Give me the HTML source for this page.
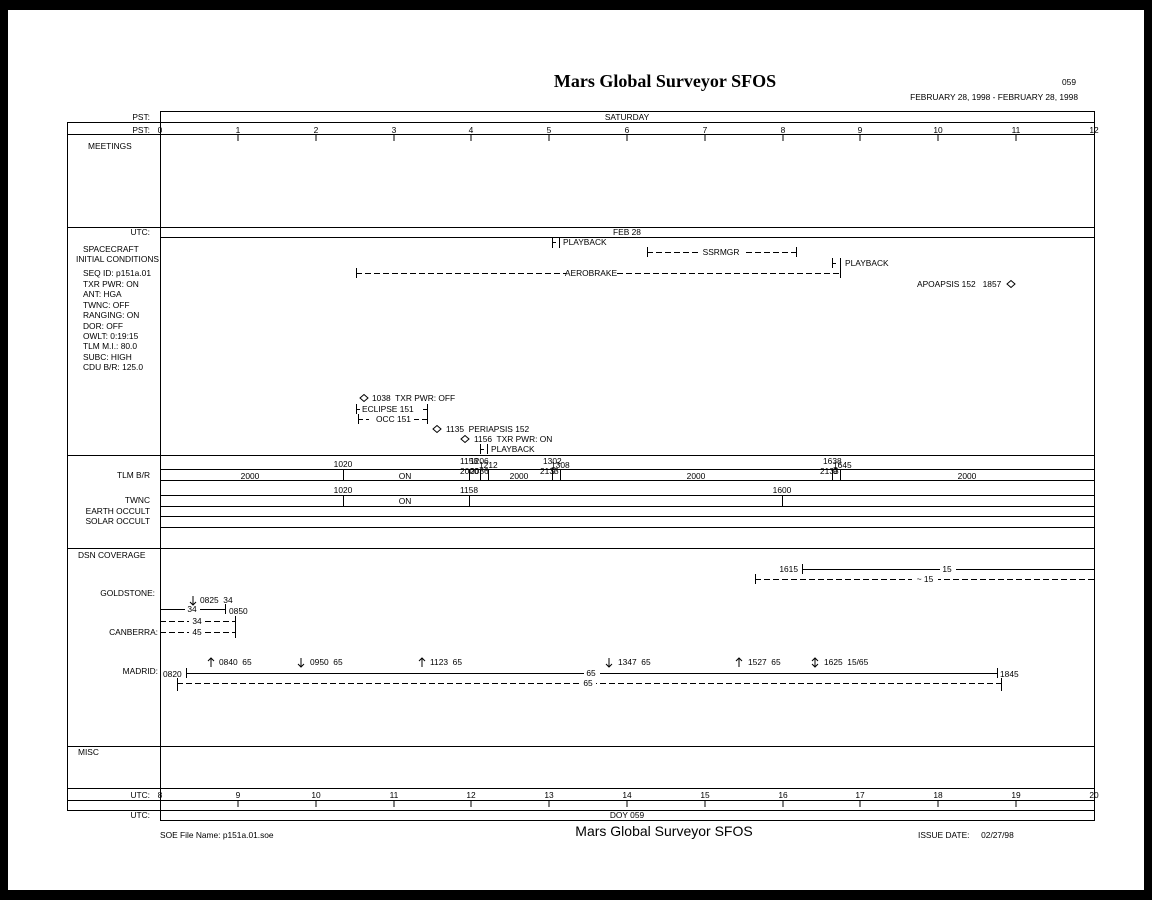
<!DOCTYPE html>
<html><head><meta charset="utf-8"><style>
html,body{margin:0;padding:0;background:#000;}
svg{display:block}
text{font-family:"Liberation Sans",sans-serif;font-size:8.4px;fill:#000;white-space:pre}
</style></head><body>
<svg width="1152" height="900" viewBox="0 0 1152 900" xmlns="http://www.w3.org/2000/svg">
<rect x="0" y="0" width="1152" height="900" fill="#000"/>
<rect x="8" y="10" width="1136" height="880" fill="#fff"/>
<g stroke="#000" stroke-width="1" fill="none">
<line x1="160" y1="111.5" x2="1094" y2="111.5"/>
<line x1="67" y1="122.5" x2="1094" y2="122.5"/>
<line x1="67" y1="134.5" x2="1094" y2="134.5"/>
<line x1="67" y1="227.5" x2="1094" y2="227.5"/>
<line x1="160" y1="237.5" x2="1094" y2="237.5"/>
<line x1="67" y1="455.5" x2="1094" y2="455.5"/>
<line x1="160" y1="469.5" x2="1094" y2="469.5"/>
<line x1="160" y1="480.5" x2="1094" y2="480.5"/>
<line x1="160" y1="495.5" x2="1094" y2="495.5"/>
<line x1="160" y1="506.5" x2="1094" y2="506.5"/>
<line x1="160" y1="516.5" x2="1094" y2="516.5"/>
<line x1="160" y1="527.5" x2="1094" y2="527.5"/>
<line x1="67" y1="548.5" x2="1094" y2="548.5"/>
<line x1="67" y1="746.5" x2="1094" y2="746.5"/>
<line x1="67" y1="788.5" x2="1094" y2="788.5"/>
<line x1="67" y1="800.5" x2="1094" y2="800.5"/>
<line x1="67" y1="810.5" x2="1094" y2="810.5"/>
<line x1="160" y1="820.5" x2="1094" y2="820.5"/>
<line x1="67.5" y1="122" x2="67.5" y2="811"/>
<line x1="160.5" y1="111" x2="160.5" y2="821"/>
<line x1="1094.5" y1="111" x2="1094.5" y2="821"/>
<path d="M238 135v6M316 135v6M394 135v6M471 135v6M549 135v6M627 135v6M705 135v6M783 135v6M860 135v6M938 135v6M1016 135v6"/>
<path d="M238 801v6M316 801v6M394 801v6M471 801v6M549 801v6M627 801v6M705 801v6M783 801v6M860 801v6M938 801v6M1016 801v6"/>
<path d="M552.5 238v10M552 242.5h4M559.5 238v10"/>
<path d="M647.5 247v10M796.5 247v10"/>
<line x1="647" y1="252.5" x2="796" y2="252.5" stroke-dasharray="6 3"/>
<path d="M832.5 258v10M832 263.5h4M840.5 258v10"/>
<path d="M356.5 268v10M840.5 268v10"/>
<line x1="356" y1="273.5" x2="840" y2="273.5" stroke-dasharray="6 3"/>
<path d="M356.5 404v10M356 409.5h4M427.5 404v10M423 409.5h4"/>
<path d="M358.5 414v10M427.5 414v10"/>
<line x1="358" y1="419.5" x2="427" y2="419.5" stroke-dasharray="5 3"/>
<path d="M480.5 444v10M480 449.5h4M487.5 444v10"/>
<polygon points="360,398 364,394.5 368,398 364,401.5"/>
<polygon points="433,429 437,425.5 441,429 437,432.5"/>
<polygon points="461,439 465,435.5 469,439 465,442.5"/>
<polygon points="1007,284 1011,280.5 1015,284 1011,287.5"/>
<path d="M343.5 470v10M469.5 470v10M480.5 470v10M488.5 470v10M552.5 470v10M560.5 470v10M832.5 470v10M840.5 470v10"/>
<path d="M343.5 495v11M469.5 495v11M782.5 495v11"/>
<path d="M802.5 564v10M802 569.5h138M956 569.5h138"/>
<path d="M755.5 574v10"/>
<line x1="755" y1="579.5" x2="1094" y2="579.5" stroke-dasharray="6 3"/>
<path d="M160 609.5h25M200 609.5h25M225.5 604v10"/>
<line x1="160" y1="621.5" x2="235" y2="621.5" stroke-dasharray="6 3"/>
<line x1="160" y1="632.5" x2="235" y2="632.5" stroke-dasharray="6 3"/>
<path d="M235.5 616v22"/>
<path d="M186.5 668v10M186 673.5h398M600 673.5h397M997.5 668v10"/>
<path d="M177.5 678v13M1001.5 678v13"/>
<line x1="177" y1="683.5" x2="1001" y2="683.5" stroke-dasharray="6 3"/>
<path d="M193 596v9M190 602l3 3 3-3"/>
<path d="M211 667v-9M208 661l3-3 3 3"/>
<path d="M301 658v9M298 664l3 3 3-3"/>
<path d="M422 667v-9M419 661l3-3 3 3"/>
<path d="M609 658v9M606 664l3 3 3-3"/>
<path d="M739 667v-9M736 661l3-3 3 3"/>
<path d="M815 658v9M812 661l3-3 3 3M812 664l3 3 3-3"/>
</g>
<text x="665" y="87" text-anchor="middle" style="font-family:'Liberation Serif',serif;font-size:18px;font-weight:bold">Mars Global Surveyor SFOS</text>
<text x="1062" y="85">059</text>
<text x="1078" y="100" text-anchor="end">FEBRUARY 28, 1998 - FEBRUARY 28, 1998</text>
<text x="150" y="120" text-anchor="end">PST:</text>
<text x="627" y="120" text-anchor="middle">SATURDAY</text>
<text x="150" y="133" text-anchor="end">PST:</text>
<g text-anchor="middle">
<text x="160" y="133">0</text><text x="238" y="133">1</text><text x="316" y="133">2</text><text x="394" y="133">3</text><text x="471" y="133">4</text><text x="549" y="133">5</text><text x="627" y="133">6</text><text x="705" y="133">7</text><text x="783" y="133">8</text><text x="860" y="133">9</text><text x="938" y="133">10</text><text x="1016" y="133">11</text><text x="1094" y="133">12</text>
<text x="160" y="798">8</text><text x="238" y="798">9</text><text x="316" y="798">10</text><text x="394" y="798">11</text><text x="471" y="798">12</text><text x="549" y="798">13</text><text x="627" y="798">14</text><text x="705" y="798">15</text><text x="783" y="798">16</text><text x="860" y="798">17</text><text x="938" y="798">18</text><text x="1016" y="798">19</text><text x="1094" y="798">20</text>
</g>
<text x="88" y="149">MEETINGS</text>
<text x="150" y="235" text-anchor="end">UTC:</text>
<text x="627" y="235" text-anchor="middle">FEB 28</text>
<text x="83" y="252">SPACECRAFT</text>
<text x="76" y="262">INITIAL CONDITIONS</text>
<text x="83" y="276">SEQ ID: p151a.01</text>
<text x="83" y="287">TXR PWR: ON</text>
<text x="83" y="297">ANT: HGA</text>
<text x="83" y="308">TWNC: OFF</text>
<text x="83" y="318">RANGING: ON</text>
<text x="83" y="329">DOR: OFF</text>
<text x="83" y="339">OWLT: 0:19:15</text>
<text x="83" y="349">TLM M.I.: 80.0</text>
<text x="83" y="360">SUBC: HIGH</text>
<text x="83" y="370">CDU B/R: 125.0</text>
<text x="563" y="245">PLAYBACK</text>
<rect x="698" y="248" width="46" height="9" fill="#fff"/>
<text x="721" y="255" text-anchor="middle">SSRMGR</text>
<text x="845" y="266">PLAYBACK</text>
<rect x="566" y="269" width="50" height="9" fill="#fff"/>
<text x="591" y="276" text-anchor="middle">AEROBRAKE</text>
<text x="917" y="287">APOAPSIS 152   1857</text>
<text x="372" y="401">1038  TXR PWR: OFF</text>
<text x="362" y="412">ECLIPSE 151</text>
<rect x="369" y="415" width="44" height="9" fill="#fff"/>
<text x="376" y="422">OCC 151</text>
<text x="446" y="432">1135  PERIAPSIS 152</text>
<text x="474" y="442">1156  TXR PWR: ON</text>
<text x="491" y="452">PLAYBACK</text>
<text x="150" y="478" text-anchor="end">TLM B/R</text>
<text x="343" y="467" text-anchor="middle">1020</text>
<text x="460" y="464">1158</text><text x="470" y="464">1206</text><text x="479" y="468">1212</text>
<text x="460" y="474">2000</text><text x="470" y="474">2036</text>
<text x="543" y="464">1302</text><text x="551" y="468">1308</text><text x="540" y="474">2133</text><text x="551" y="474">9</text>
<text x="823" y="464">1638</text><text x="833" y="468">1645</text><text x="820" y="474">2133</text><text x="833" y="474">9</text>
<g text-anchor="middle">
<text x="250" y="479">2000</text><text x="405" y="479">ON</text><text x="519" y="479">2000</text><text x="696" y="479">2000</text><text x="967" y="479">2000</text>
<text x="343" y="493">1020</text><text x="469" y="493">1158</text><text x="782" y="493">1600</text>
<text x="405" y="504">ON</text>
</g>
<text x="150" y="503" text-anchor="end">TWNC</text>
<text x="150" y="514" text-anchor="end">EARTH OCCULT</text>
<text x="150" y="524" text-anchor="end">SOLAR OCCULT</text>
<text x="78" y="558">DSN COVERAGE</text>
<text x="798" y="572" text-anchor="end">1615</text>
<text x="947" y="572" text-anchor="middle">15</text>
<rect x="912" y="575" width="26" height="9" fill="#fff"/>
<text x="925" y="582" text-anchor="middle">~ 15</text>
<text x="155" y="596" text-anchor="end">GOLDSTONE:</text>
<text x="200" y="603">0825  34</text>
<text x="192" y="612" text-anchor="middle">34</text>
<text x="229" y="614">0850</text>
<rect x="189" y="617" width="16" height="9" fill="#fff"/>
<text x="197" y="624" text-anchor="middle">34</text>
<text x="158" y="635" text-anchor="end">CANBERRA:</text>
<rect x="189" y="628" width="16" height="9" fill="#fff"/>
<text x="197" y="635" text-anchor="middle">45</text>
<text x="158" y="674" text-anchor="end">MADRID:</text>
<text x="219" y="665">0840  65</text>
<text x="310" y="665">0950  65</text>
<text x="430" y="665">1123  65</text>
<text x="618" y="665">1347  65</text>
<text x="748" y="665">1527  65</text>
<text x="824" y="665">1625  15/65</text>
<text x="163" y="677">0820</text>
<text x="591" y="676" text-anchor="middle">65</text>
<text x="1000" y="677">1845</text>
<rect x="580" y="679" width="16" height="9" fill="#fff"/>
<text x="588" y="686" text-anchor="middle">65</text>
<text x="78" y="755">MISC</text>
<text x="150" y="798" text-anchor="end">UTC:</text>
<text x="150" y="818" text-anchor="end">UTC:</text>
<text x="627" y="818" text-anchor="middle">DOY 059</text>
<text x="160" y="838">SOE File Name: p151a.01.soe</text>
<text x="664" y="836" text-anchor="middle" style="font-size:14px">Mars Global Surveyor SFOS</text>
<text x="918" y="838">ISSUE DATE:     02/27/98</text>
</svg>
</body></html>
